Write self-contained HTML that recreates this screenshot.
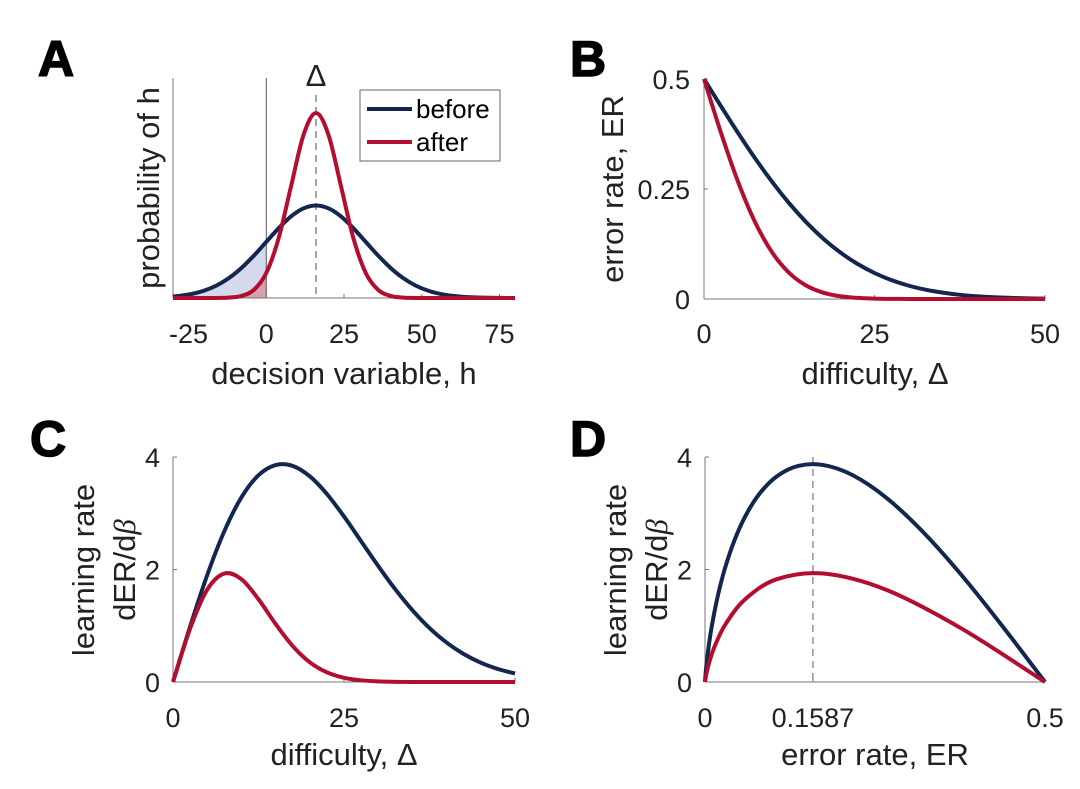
<!DOCTYPE html>
<html><head><meta charset="utf-8"><style>
html,body{margin:0;padding:0;background:#fff;}
svg{display:block;font-family:"Liberation Sans",sans-serif;}
.tick{font-size:27px;fill:#222;}
.lab{font-size:31px;fill:#222;}
.leg{font-size:26px;fill:#000;}
.letter{font-size:50px;font-weight:bold;fill:#000;stroke:#000;stroke-width:1.5px;}
</style></head><body>
<svg id="fig" width="1080" height="789" viewBox="0 0 1080 789">
<text class="letter" x="38" y="76">A</text>
<text class="letter" x="570" y="76">B</text>
<text class="letter" x="30" y="456">C</text>
<text class="letter" x="570" y="456">D</text>
</svg>
<script>
// Panel A data
const hVals=[-30,-28,-24,-20,-16,-12,-8,-4,0,4,8,12,16,20,24,28,32,36,40,44,48,52,56,60,64,68,72,76,80];
const beforeDens=[0.016,0.0228,0.0439,0.0796,0.1353,0.2163,0.3247,0.4578,0.6065,0.7548,0.8825,0.9692,1,0.9692,0.8825,0.7548,0.6065,0.4578,0.3247,0.2163,0.1353,0.0796,0.0439,0.0228,0.0111,0.0051,0.0022,0.0009,0.0003];
const afterDens=[0,0,0,0.0001,0.0007,0.0044,0.0222,0.0879,0.2707,0.6494,1.2131,1.765,2,1.765,1.2131,0.6494,0.2707,0.0879,0.0222,0.0044,0.0007,0.0001,0,0,0,0,0,0,0];
const deltaMark=16;
const aTicks=[-25,0,25,50,75];
// Panel B/C data
const diffVals=[0,2.5,5,7.5,10,12.5,15,17.5,20,22.5,25,27.5,30,32.5,35,37.5,40,42.5,45,47.5,50];
const erBefore=[0.5,0.4379,0.3773,0.3196,0.266,0.2174,0.1743,0.137,0.1056,0.0798,0.0591,0.0428,0.0304,0.0211,0.0144,0.0095,0.0062,0.004,0.0025,0.0015,0.0009];
const erAfter=[0.5,0.3773,0.266,0.1743,0.1056,0.0591,0.0304,0.0144,0.0062,0.0025,0.0009,0.0003,0.0001,0,0,0,0,0,0,0,0];
const lrBefore=[0,0.985,1.9,2.68,3.282,3.676,3.857,3.841,3.656,3.342,2.943,2.503,2.063,1.648,1.277,0.959,0.701,0.498,0.343,0.231,0.151];
const lrAfter=[0,0.95,1.641,1.928,1.828,1.471,1.032,0.639,0.35,0.172,0.075,0.03,0.011,0.003,0,0,0,0,0,0,0];
const bxTicks=[0,25,50], byTicks=[0,0.25,0.5], byLabels=["0","0.25","0.5"];
const cyTicks=[0,2,4];
const dxTicks=[0,0.1587,0.5], dxLabels=["0","0.1587","0.5"];
const optimalER=0.1587;

const NS="http://www.w3.org/2000/svg";
const svg=document.getElementById('fig');
const BLUE="#13264f", RED="#b30d2f";
function el(tag,attrs,parent){const e=document.createElementNS(NS,tag);for(const k in attrs)e.setAttribute(k,attrs[k]);(parent||svg).appendChild(e);return e;}
function lin(d0,d1,r0,r1){return v=>r0+(v-d0)/(d1-d0)*(r1-r0);}
function smooth(pts){let d="M"+pts[0][0].toFixed(2)+","+pts[0][1].toFixed(2);
 for(let i=0;i<pts.length-1;i++){const p0=pts[i-1]||pts[i],p1=pts[i],p2=pts[i+1],p3=pts[i+2]||p2;
 const c1=[p1[0]+(p2[0]-p0[0])/6,p1[1]+(p2[1]-p0[1])/6],c2=[p2[0]-(p3[0]-p1[0])/6,p2[1]-(p3[1]-p1[1])/6];
 d+="C"+c1.map(v=>v.toFixed(2)).join(",")+" "+c2.map(v=>v.toFixed(2)).join(",")+" "+p2[0].toFixed(2)+","+p2[1].toFixed(2);}
 return d;}
function axes(name,x0,x1,y0,y1){
 const a=el('line',{x1:x0,y1:y1,x2:x1,y2:y1,stroke:'#777','stroke-width':1});
 
 const b=el('line',{x1:x0,y1:y0,x2:x0,y2:y1,stroke:'#777','stroke-width':1});
 }
function txt(s,x,y,cls,anchor,name,rot){const t=el('text',{x:x,y:y,class:cls,'text-anchor':anchor||'middle'});
 if(rot)t.setAttribute('transform','rotate(-90 '+x+' '+y+')');t.textContent=s;
 return t;}
function curve(pts,color,name){const p=el('path',{d:smooth(pts),fill:'none',stroke:color,'stroke-width':4,'stroke-linejoin':'round'});
 return p;}
function xtick(x,y,name){const t=el('line',{x1:x,y1:y,x2:x,y2:y-4,stroke:'#777'});}
function ytick(x,y,name){const t=el('line',{x1:x,y1:y,x2:x+4,y2:y,stroke:'#777'});}
function betaLabel(x,y,name){const t=txt('dER/d',x,y,'lab','middle',name,true);
 const ts=document.createElementNS(NS,'tspan');ts.setAttribute('font-style','italic');ts.setAttribute('font-family','"Liberation Serif",serif');ts.textContent='β';t.appendChild(ts);}

// ---- Panel A
{const X=lin(-30,80,173,515),Y=lin(0,2,298,113);
 const bSh=[];const aSh=[];hVals.forEach((h,i)=>{if(h<=0){bSh.push([X(h),Y(beforeDens[i])]);aSh.push([X(h),Y(afterDens[i])]);}});
 const s1=el('path',{d:smooth(bSh)+"L"+X(0)+","+Y(0)+"L"+X(-30)+","+Y(0)+"Z",fill:'#c9d0e6',opacity:0.8});
 
 const s2=el('path',{d:smooth(aSh)+"L"+X(0)+","+Y(0)+"L"+X(-30)+","+Y(0)+"Z",fill:'#d99aa6',opacity:0.9});
 
 axes('panel-a',173,515,78,298);
 const z=el('line',{x1:X(0),y1:78,x2:X(0),y2:298,stroke:'#555','stroke-width':1});
 
 const dl=el('line',{x1:X(deltaMark),y1:95,x2:X(deltaMark),y2:298,stroke:'#666','stroke-width':1.2,'stroke-dasharray':'7,5'});
 
 txt('Δ',X(deltaMark),86,'lab','middle','delta-label');
 aTicks.forEach(v=>{xtick(X(v),298,'a-x-tick');txt(String(v),X(v),343,'tick','middle','a-x-tick-label');});
 curve(hVals.map((h,i)=>[X(h),Y(beforeDens[i])]),BLUE,'before-distribution');
 curve(hVals.map((h,i)=>[X(h),Y(afterDens[i])]),RED,'after-distribution');
 txt('decision variable, h',344,384,'lab','middle','a-x-axis-title');
 txt('probability of h',159,188,'lab','middle','a-y-axis-title',true);
 const lg=el('g',{});
 el('rect',{x:360,y:90,width:140,height:71,fill:'#fff',stroke:'#666','stroke-width':1},lg);
 el('line',{x1:367,y1:109,x2:412,y2:109,stroke:BLUE,'stroke-width':4},lg);
 el('line',{x1:367,y1:142,x2:412,y2:142,stroke:RED,'stroke-width':4},lg);
 const t1=el('text',{x:416,y:118,class:'leg'},lg);t1.textContent='before';
 
 const t2=el('text',{x:416,y:151,class:'leg'},lg);t2.textContent='after';
 }

// ---- Panel B
{const X=lin(0,50,704,1045),Y=lin(0,0.5,299,79);
 axes('panel-b',704,1045,79,299);
 bxTicks.forEach(v=>{xtick(X(v),299,'b-x-tick');txt(String(v),X(v),343,'tick','middle','b-x-tick-label');});
 byTicks.forEach((v,i)=>{ytick(704,Y(v),'b-y-tick');txt(byLabels[i],690,Y(v)+10,'tick','end','b-y-tick-label');});
 curve(diffVals.map((d,i)=>[X(d),Y(erBefore[i])]),BLUE,'b-before-line');
 curve(diffVals.map((d,i)=>[X(d),Y(erAfter[i])]),RED,'b-after-line');
 txt('difficulty,  Δ',875,384,'lab','middle','b-x-axis-title');
 txt('error rate, ER',623,189,'lab','middle','b-y-axis-title',true);}

// ---- Panel C
{const X=lin(0,50,173,515),Y=lin(0,4,682,457);
 axes('panel-c',173,515,457,682);
 bxTicks.forEach(v=>{xtick(X(v),682,'c-x-tick');txt(String(v),X(v),727,'tick','middle','c-x-tick-label');});
 cyTicks.forEach(v=>{ytick(173,Y(v),'c-y-tick');txt(String(v),160,Y(v)+10,'tick','end','c-y-tick-label');});
 curve(diffVals.map((d,i)=>[X(d),Y(lrBefore[i])]),BLUE,'c-before-line');
 curve(diffVals.map((d,i)=>[X(d),Y(lrAfter[i])]),RED,'c-after-line');
 txt('difficulty,  Δ',344,765,'lab','middle','c-x-axis-title');
 txt('learning rate',94,570,'lab','middle','c-y-axis-title-1',true);
 betaLabel(135,570,'c-y-axis-title-2');}

// ---- Panel D
{const X=lin(0,0.5,705,1045),Y=lin(0,4,682,457);
 axes('panel-d',705,1045,457,682);
 dxTicks.forEach((v,i)=>{xtick(X(v),682,'d-x-tick');txt(dxLabels[i],X(v),727,'tick','middle','d-x-tick-label');});
 cyTicks.forEach(v=>{ytick(705,Y(v),'d-y-tick');txt(String(v),692,Y(v)+10,'tick','end','d-y-tick-label');});
 const dl=el('line',{x1:X(optimalER),y1:457,x2:X(optimalER),y2:682,stroke:'#777','stroke-width':1.2,'stroke-dasharray':'7,5'});
 
 const pb=diffVals.map((d,i)=>[X(erBefore[i]),Y(lrBefore[i])]);pb.push([X(0),Y(0)]);
 const pa=[];diffVals.forEach((d,i)=>{if(i<13)pa.push([X(erAfter[i]),Y(lrAfter[i])]);});pa.push([X(0),Y(0)]);
 curve(pb,BLUE,'d-before-line');
 curve(pa,RED,'d-after-line');
 txt('error rate, ER',875,765,'lab','middle','d-x-axis-title');
 txt('learning rate',626,570,'lab','middle','d-y-axis-title-1',true);
 betaLabel(667,570,'d-y-axis-title-2');}
</script>
</body></html>
